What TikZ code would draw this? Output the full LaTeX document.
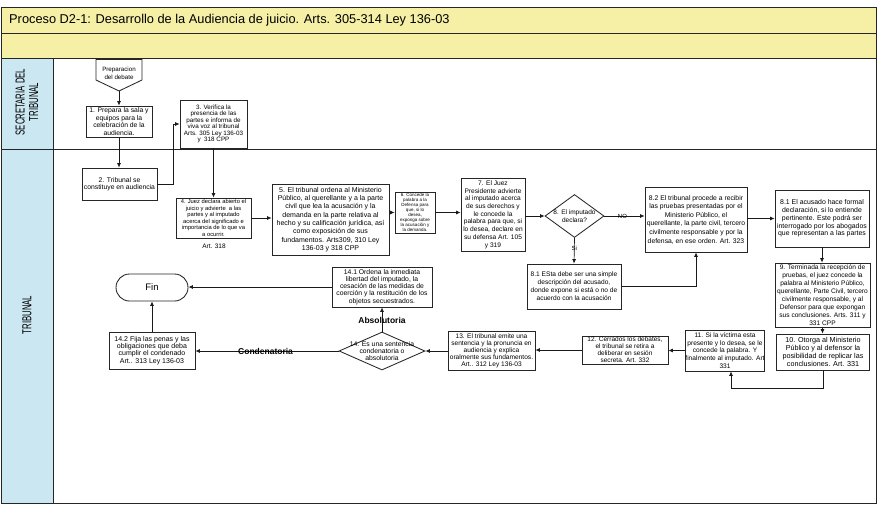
\documentclass[tikz,border=0pt]{standalone}
\usepackage{fontspec}
\setmainfont{Liberation Sans}
\usetikzlibrary{arrows.meta,shapes.geometric}
\definecolor{titlebar}{HTML}{F5F0A6}
\definecolor{lanehead}{HTML}{CBE7F1}
\newcommand{\fz}[2]{\fontsize{#1}{#2}\selectfont}
\newcommand{\narrow}[1]{\scalebox{0.6}[1]{#1}}

\begin{document}
\begin{tikzpicture}[x=1pt,y=-1pt,
  box/.style={draw=black!85, line width=0.85pt, fill=white, align=center,
              inner sep=0pt, font=\fz{6.8}{7.4}},
  decision/.style={diamond, draw=black!85, line width=0.85pt, fill=white,
              inner sep=0pt},
  inside/.style={align=center, inner sep=0pt},
  flow/.style={draw=black!90, line width=0.7pt, -{Latex[length=4.5pt,width=4pt]}},
  lbl/.style={font=\fz{6}{7}, inner sep=0pt},
  branch/.style={font=\bfseries\fz{8.5}{9}, inner sep=0pt},
  frame/.style={draw=black!85, line width=0.8pt},
  lanetext/.style={rotate=90, align=center, font=\fz{13}{13.5}, inner sep=0pt}
]
\useasboundingbox (0,0) rectangle (878,504);

% ---- header bands ----
\fill[titlebar] (1,7) rectangle (876,58);
\draw[frame] (1,7) rectangle (876,33);
\draw[frame] (1,33) rectangle (876,58);
\node[anchor=west, inner sep=0pt, font=\fz{12.8}{14}] (title) at (9,20.5)
  {Proceso D2-1: Desarrollo de la Audiencia de juicio. Arts. 305-314 Ley 136-03};

% ---- swimlanes ----
\fill[lanehead] (1,58) rectangle (53,503);
\draw[frame] (1,58) rectangle (876,503);
\draw[frame] (1,149) -- (876,149);
\draw[frame] (53,58) -- (53,503);
\node[lanetext] (laneSec) at (27,102) {\narrow{SECRETARIA DEL}\\\narrow{TRIBUNAL}};
\node[lanetext] (laneTrib) at (27,315) {\narrow{TRIBUNAL}};

% ---- off-page start connector ----
\draw[draw=black!85, line width=0.85pt, fill=white]
  (96,59.5) -- (142,59.5) -- (142,80) -- (119,91) -- (96,80) -- cycle;
\node[inside, font=\fz{6.2}{7.5}] (prep) at (119,73.5) {Preparacion\\del debate};
\coordinate (prepTip) at (119,91);

% ---- secretaria lane ----
\node[box, minimum width=66pt, minimum height=31pt] (b1) at (119,121.5)
  {1. Prepara la sala y\\equipos para la\\celebración de la\\audiencia.};
\node[box, minimum width=67pt, minimum height=48pt, font=\fz{6.3}{6.5}] (b3) at (213.5,124)
  {3. Verifica la\\presencia de las\\partes e informa de\\viva voz al tribunal\\Arts. 305 Ley 136-03\\y \ 318 CPP};

% ---- tribunal lane, upper row ----
\node[box, minimum width=75pt, minimum height=32pt] (b2) at (119.5,184)
  {2. Tribunal se\\constituye en audiencia};
\node[box, minimum width=75pt, minimum height=40pt, font=\fz{5.8}{6.6}] (b4) at (213.5,218)
  {4. Juez declara abierto el\\juicio y advierte \ a las\\partes y al imputado\\acerca del significado e\\importancia de lo que va\\a ocurrir.};
\node[inside, font=\fz{6.5}{7}] (art318) at (214,246) {Art. 318};
\node[box, minimum width=117pt, minimum height=71pt, font=\fz{7}{8.3}] (b5) at (330.5,219.5)
  {5. El tribunal ordena al Ministerio\\Público, al querellante y a la parte\\civil que lea la acusación y la\\demanda en la parte relativa al\\hecho y su calificación jurídica, así\\como exposición de sus\\fundamentos. Arts309, 310 Ley\\136-03 y 318 CPP};
\node[box, minimum width=40pt, minimum height=41pt, font=\fz{4.5}{5.1}] (b6) at (415,212.5)
  {6. Concede la\\palabra a la\\Defensa para\\que, si lo\\desea,\\exponga sobre\\la acusación y\\la demanda.};
\node[box, minimum width=64pt, minimum height=73pt, font=\fz{6.6}{7.7}] (b7) at (493,214.5)
  {7. El Juez\\Presidente advierte\\al imputado acerca\\de sus derechos y\\le concede la\\palabra para que, si\\lo desea, declare en\\su defensa Art. 105\\y 319};
\node[decision, minimum width=59pt, minimum height=43pt] (d8) at (574.5,216) {};
\node[inside, font=\fz{6.5}{7.4}] (d8text) at (d8) {8. El imputado\\declara?};
\node[box, minimum width=102pt, minimum height=65pt, font=\fz{6.8}{8.6}] (b82) at (696,219.5)
  {8.2 El tribunal procede a recibir\\las pruebas presentadas por el\\Ministerio Público, el\\querellante, la parte civil, tercero\\civilmente responsable y por la\\defensa, en ese orden. Art. 323};
\node[box, minimum width=94pt, minimum height=57pt, font=\fz{6.9}{7.8}] (b81r) at (822,218.5)
  {8.1 El acusado hace formal\\declaración, si lo entiende\\pertinente. Este podrá ser\\interrogado por los abogados\\que representan a las partes};
\node[box, minimum width=94pt, minimum height=45pt, font=\fz{6.6}{8}] (b81b) at (574,286.5)
  {8.1 ESta debe ser una simple\\descripción del acusado,\\donde expone si está o no de\\acuerdo con la acusación};

% ---- tribunal lane, right column and lower row ----
\node[box, minimum width=95pt, minimum height=64pt, font=\fz{6.6}{7.9}] (b9) at (822.5,295)
  {9. Terminada la recepción de\\pruebas, el juez concede la\\palabra al Ministerio Público,\\querellante, Parte Civil, tercero\\civilmente responsable, y al\\Defensor para que expongan\\sus conclusiones. Arts. 311 y\\331 CPP};
\node[box, minimum width=93pt, minimum height=36pt, font=\fz{7.2}{8}] (b10) at (823,352)
  {10. Otorga al Ministerio\\Público y al defensor la\\posibilidad de replicar las\\conclusiones. Art. 331};
\node[box, minimum width=76pt, minimum height=41pt, font=\fz{6.6}{7.6}] (b11) at (725,350.5)
  {11. Si la víctima esta\\presente y lo desea, se le\\concede la palabra. Y\\finalmente al imputado. Art\\331};
\node[box, minimum width=86pt, minimum height=28pt, font=\fz{6.5}{7}] (b12) at (625,350)
  {12. Cerrados los debates,\\el tribunal se retira a\\deliberar en sesión\\secreta. Art. 332};
\node[box, minimum width=87pt, minimum height=39pt, font=\fz{6.6}{7.1}] (b13) at (491.5,350.5)
  {13. El tribunal emite una\\sentencia y la pronuncia en\\audiencia y explica\\oralmente sus fundamentos.\\Art.. 312 Ley 136-03};
\node[decision, minimum width=86pt, minimum height=38pt] (d14) at (382,351) {};
\node[inside, font=\fz{6.8}{7.2}] (d14text) at (d14) {14. Es una sentencia\\condenatoria o\\absolutoria};
\node[box, minimum width=100pt, minimum height=40pt, font=\fz{6.8}{7.2}] (b141) at (382,287)
  {14.1 Ordena la inmediata\\libertad del imputado, la\\cesación de las medidas de\\coerción y la restitución de los\\objetos secuestrados.};
\node[box, minimum width=86pt, minimum height=37pt, font=\fz{7}{7.3}] (b142) at (152,350.5)
  {14.2 Fija las penas y las\\obligaciones que deba\\cumplir el condenado\\Art.. 313 Ley 136-03};
\node[box, minimum width=72pt, minimum height=27pt, rounded corners=13.5pt, font=\fz{9.5}{10}] (fin) at (152,287.5) {Fin};

% ---- connectors ----
\draw[flow] (prepTip) -- (b1.north);
\draw[flow] (b1.south) -- (b1.south |- b2.north);
\draw[flow] (b2.east) -- ++(16,0) |- (b3.west);
\draw[flow] (b3.south) -- (b4.north);
\draw[flow] (b4.east) -- (b4.east -| b5.west);
\draw[flow] (b5.east |- b6.west) -- (b6.west);
\draw[flow] (b6.east) -- (b6.east -| b7.west);
\draw[flow] (b7.east |- d8.west) -- (d8.west);
\draw[flow] (d8.east) -- (d8.east -| b82.west) node[lbl, pos=0.45] (lblNo) {NO};
\draw[flow] (d8.south) -- (b81b.north) node[lbl, pos=0.4] (lblSi) {Si};
\draw[flow] (b81b.east) -| (b82.south);
\draw[flow] (b82.east |- b81r.west) -- (b81r.west);
\draw[flow] (b81r.south) -- (b81r.south |- b9.north);
\draw[flow] (b9.south) -- (b9.south |- b10.north);
\draw[flow] (b10.south) -- ++(0,18) -| ([xshift=6pt]b11.south);
\draw[flow] (b11.west) -- (b11.west -| b12.east);
\draw[flow] (b12.west) -- (b12.west -| b13.east);
\draw[flow] (b13.west |- d14.east) -- (d14.east);
\draw[flow] (d14.north) -- (b141.south) node[branch, pos=0.48] (lblAbs) {Absolutoria};
\draw[flow] (d14.west) -- (d14.west -| b142.east) node[branch, pos=0.51] (lblCond) {Condenatoria};
\draw[flow] (b141.west) -- (b141.west -| fin.east);
\draw[flow] (b142.north) -- (fin.south);
\end{tikzpicture}
\end{document}
